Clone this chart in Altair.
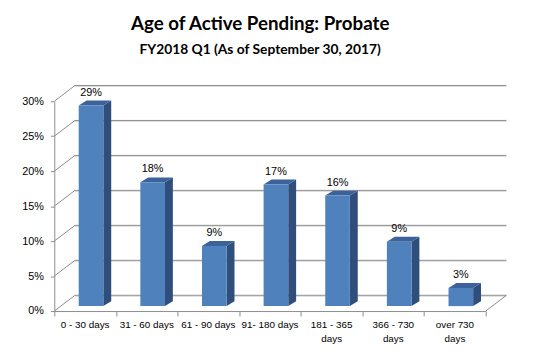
import altair as alt
import pandas as pd

# ---- data ----
categories = ["0 - 30 days", "31 - 60 days", "61 - 90 days", "91- 180 days",
              "181 - 365\ndays", "366 - 730\ndays", "over 730\ndays"]
values = [28.7, 17.7, 8.6, 17.4, 15.8, 9.2, 2.6]
y_ticks = [0, 5, 10, 15, 20, 25, 30]
title_text = "Age of Active Pending: Probate"
subtitle_text = "FY2018  Q1 (As of September 30, 2017)"

# ---- geometry (style) ----
W, H = 438, 213
XMAX, YMAX = len(categories), 30
ux, uy = XMAX / W, YMAX / H          # data units per pixel
wall_dx, wall_dy = 21 * ux, 16 * uy  # 3-D depth of the walls
shift_x, shift_y = 6 * ux, 5 * uy    # bars sit a little back on the floor
half = 12.5 * ux                     # half bar width
depth_x, depth_y = 8 * ux, 5 * uy    # bar depth

GRID = "#8c8c8c"
SHADOW = "#d9d9d9"
FRONT = "#4F81BD"
SIDE = "#2F4E7C"
TOP = "#3B629B"
FONT = "Liberation Sans"

n = len(categories)
bars = pd.DataFrame({"cat": categories, "idx": list(range(n)), "value": values})
bars["xc"] = bars["idx"] + 0.5 + shift_x
bars["x0"] = bars["xc"] - half
bars["x1"] = bars["xc"] + half
bars["y0"] = shift_y
bars["y1"] = bars["value"] + shift_y
bars["label"] = bars["value"].round().astype(int).astype(str) + "%"
bars["xl"] = bars["idx"] + 0.5
bars["yl"] = 0.0

side_rows, top_rows = [], []
for _, r in bars.iterrows():
    side_rows.append({"b": r.idx, "x": r.x1, "ya": r.y0, "yb": r.y1})
    side_rows.append({"b": r.idx, "x": r.x1 + depth_x, "ya": r.y0 + depth_y, "yb": r.y1 + depth_y})
    top_rows.append({"b": r.idx, "y": r.y1, "xa": r.x0, "xb": r.x1})
    top_rows.append({"b": r.idx, "y": r.y1 + depth_y, "xa": r.x0 + depth_x, "xb": r.x1 + depth_x})
side = pd.DataFrame(side_rows)
top = pd.DataFrame(top_rows)

grid = pd.DataFrame({"t": y_ticks})
grid["lxa"] = 0.0
grid["lxb"] = wall_dx
grid["lyb"] = grid["t"] + wall_dy
grid["bxa"] = wall_dx
grid["bxb"] = XMAX + wall_dx
floor_edge = pd.DataFrame({"xa": [float(XMAX)], "xb": [XMAX + wall_dx], "ya": [0.0], "yb": [wall_dy]})

xs = alt.Scale(domain=[0, XMAX], nice=False, zero=False)
ys = alt.Scale(domain=[0, YMAX], nice=False, zero=False)
xaxis = alt.Axis(values=list(range(XMAX + 1)), labels=False, tickSize=5, grid=False, title=None,
                 domainColor=GRID, tickColor=GRID)
yaxis = alt.Axis(values=y_ticks, labelExpr="datum.value + '%'", tickSize=4, grid=False, title=None,
                 domainColor=GRID, tickColor=GRID, labelFont=FONT, labelFontSize=11,
                 labelColor="#000", labelPadding=7, labelOverlap=False, labelFlush=False,
                 labelBound=False)


def X(field, **kw):
    return alt.X(field, scale=xs, axis=xaxis, **kw)


def Y(field, **kw):
    return alt.Y(field, scale=ys, axis=yaxis, **kw)


left_wall = alt.Chart(grid).mark_rule(color=GRID).encode(
    x=X("lxa:Q"), x2="lxb:Q", y=Y("t:Q"), y2="lyb:Q",
)
back_shadow = alt.Chart(grid).mark_rule(color=SHADOW, yOffset=1, y2Offset=1).encode(
    x=X("bxa:Q"), x2="bxb:Q", y=Y("lyb:Q"), y2="lyb:Q",
)
back = alt.Chart(grid).mark_rule(color=GRID).encode(
    x=X("bxa:Q"), x2="bxb:Q", y=Y("lyb:Q"), y2="lyb:Q",
)
floor = alt.Chart(floor_edge).mark_rule(color=GRID).encode(
    x=X("xa:Q"), x2="xb:Q", y=Y("ya:Q"), y2="yb:Q",
)
side_face = alt.Chart(side).mark_area(color=SIDE, orient="vertical").encode(
    x=X("x:Q"), y=Y("ya:Q", stack=None), y2="yb:Q", detail="b:N",
)
top_face = alt.Chart(top).mark_area(color=TOP, orient="horizontal").encode(
    y=Y("y:Q"), x=X("xa:Q", stack=None), x2="xb:Q", detail="b:N",
)
front = alt.Chart(bars).mark_rect(color=FRONT).encode(
    x=X("x0:Q"), x2="x1:Q", y=Y("y0:Q"), y2="y1:Q",
)
value_labels = alt.Chart(bars).mark_text(font=FONT, fontSize=11, color="#000",
                                         baseline="middle", dy=-13).encode(
    x=X("xc:Q"), y=Y("y1:Q"), text="label:N",
)
cat_labels = alt.Chart(bars).mark_text(font=FONT, fontSize=10, color="#000", baseline="top",
                                       dy=9, lineBreak="\n", lineHeight=14).encode(
    x=X("xl:Q"), y=Y("yl:Q"), text="cat:N",
)

chart = alt.layer(
    left_wall, back_shadow, back, floor, side_face, top_face, front, value_labels, cat_labels
).properties(
    width=W, height=H,
    autosize=alt.AutoSizeParams(type="none"),
    padding={"left": 47, "top": 92, "right": 49, "bottom": 44},
    title=alt.TitleParams(text=title_text, subtitle=subtitle_text, anchor="middle", frame="group",
                          font="Lato", fontSize=19, fontWeight="bold", color="#000",
                          subtitleFont="Lato", subtitleFontSize=14, subtitleFontWeight="bold",
                          subtitleColor="#000", subtitlePadding=10, offset=28, dx=-10),
).configure_view(stroke=None).configure_axisY(labelOverlap=False)

chart.save("out.html", embed_options={"renderer": "svg", "actions": False})
